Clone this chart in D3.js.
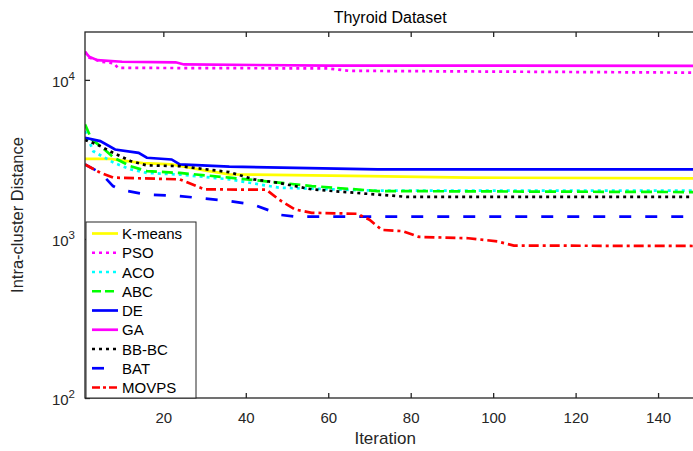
<!DOCTYPE html>
<html><head><meta charset="utf-8">
<script src="https://cdn.jsdelivr.net/npm/d3@7"></script>
<style>body{margin:0;background:#fff}svg{display:block;font-family:"Liberation Sans",Arial,sans-serif}</style>
</head><body><svg id="c" width="693" height="451"></svg>
<script>
const seriesNames = ["K-means","PSO","ACO","ABC","DE","GA","BB-BC","BAT","MOVPS"];
const xTicks = [20,40,60,80,100,120,140];
const yTicks = [100,1000,10000];

const kmeansIter = [1,7,15,22,30,36,70,94,150];
const kmeansVal  = [3190,3190,3000,2940,2700,2550,2480,2430,2400];
const psoIter = [1,2,5,8,9,60,65,150];
const psoVal  = [15000,13800,13000,12700,11900,11800,11400,11100];
const acoIter = [1,3,8,12,16,24,36,48,72,150];
const acoVal  = [4770,3560,3010,2740,2600,2540,2370,2100,2010,2010];
const abcIter = [1,2.6,4.7,8,12,16,24,36,48,56,72,150];
const abcVal  = [5250,4230,3840,3240,2870,2670,2600,2430,2260,2150,2000,1970];
const deIter = [1,4.7,8.3,14,16,22,24,36,72,150];
const deVal  = [4330,4120,3650,3480,3240,3160,2940,2850,2740,2740];
const gaIter = [1,2,4,10,23,25,60,150];
const gaVal  = [15000,14000,13300,13000,12900,12500,12300,12250];
const bbbcIter = [1,3.8,7.8,12,16,24,36,42,48,56,72,79,150];
const bbbcVal  = [4190,3940,3480,3090,2900,2870,2630,2370,2250,2050,1900,1840,1840];
const batIter = [1,4.7,7.8,9.5,16,24,36,42,46,48,52,150];
const batVal  = [2940,2610,2150,2040,1900,1860,1730,1640,1500,1420,1380,1380];
const movpsIter = [1,4.7,7.8,24,28,30,45,48,52,56,67,70,73,78,82,94,101,105,150];
const movpsVal  = [2940,2610,2430,2370,2150,2050,2040,1770,1530,1460,1440,1320,1140,1120,1030,1010,966,908,903];

const iters = [kmeansIter,psoIter,acoIter,abcIter,deIter,gaIter,bbbcIter,batIter,movpsIter];
const vals = [kmeansVal,psoVal,acoVal,abcVal,deVal,gaVal,bbbcVal,batVal,movpsVal];
const colors = ["#ffff00","#ff00ff","#00ffff","#00ff00","#0000ff","#ff00ff","#000000","#0000ff","#ff0000"];
const dashes = [null,"3,4","3,4","11,5",null,null,"3,4","12,14","10,4,3,4"];
const legendDashes = [null,"3,4","3,4","9,4",null,null,"3,4","12,14","8,3,3,3"];

const svg = d3.select("#c");
const L=85, R=699.3, T=32, B=398;
const x = d3.scaleLinear().domain([1,150]).range([L,R]);
const y = d3.scaleLog().domain([100,20000]).range([B,T]);
const axc = "#262626";

svg.append("defs").append("clipPath").attr("id","clip").append("rect")
  .attr("x",L).attr("y",T).attr("width",R-L).attr("height",B-T);

const g = svg.append("g").attr("clip-path","url(#clip)");
const line = d3.line().x(d=>x(d[0])).y(d=>y(d[1]));
seriesNames.forEach((n,i)=>{
  const pts = iters[i].map((it,j)=>[it,vals[i][j]]);
  g.append("path").attr("d",line(pts)).attr("fill","none")
   .attr("stroke",colors[i]).attr("stroke-width",2.7)
   .attr("stroke-dasharray",dashes[i]);
});

svg.append("rect").attr("x",L).attr("y",T).attr("width",R-L).attr("height",B-T)
  .attr("fill","none").attr("stroke",axc).attr("stroke-width",1.3);

const xb = svg.append("g").attr("transform",`translate(0,${B})`)
  .call(d3.axisBottom(x).tickValues(xTicks).tickSizeInner(-5).tickSizeOuter(0).tickPadding(14));
const xt = svg.append("g").attr("transform",`translate(0,${T})`)
  .call(d3.axisTop(x).tickValues(xTicks).tickSizeInner(-5).tickSizeOuter(0).tickFormat(""));
const yl = svg.append("g").attr("transform",`translate(${L},0)`)
  .call(d3.axisLeft(y).tickValues(yTicks).tickSizeInner(-5).tickSizeOuter(0).tickFormat(""));
const yr = svg.append("g").attr("transform",`translate(${R},0)`)
  .call(d3.axisRight(y).tickValues(yTicks).tickSizeInner(-5).tickSizeOuter(0).tickFormat(""));
[xb,xt,yl,yr].forEach(a=>{a.select(".domain").remove();a.selectAll("line").attr("stroke",axc).attr("stroke-width",1.3);});
xb.selectAll("text").attr("font-size",15).attr("fill",axc).attr("font-family","Liberation Sans, Arial, sans-serif");

yTicks.forEach(v=>{
  const t = svg.append("text").attr("x",L-10).attr("y",y(v)+7).attr("text-anchor","end")
    .attr("font-size",15).attr("fill",axc);
  t.append("tspan").text("10");
  t.append("tspan").attr("dy",-7).attr("font-size",11.5).text(Math.round(Math.log10(v)));
});

svg.append("text").attr("x",(L+R)/2-2).attr("y",23).attr("text-anchor","middle")
  .attr("font-size",16).attr("fill","#000").text("Thyroid Dataset");
svg.append("text").attr("x",(L+R)/2-7).attr("y",444).attr("text-anchor","middle")
  .attr("font-size",17).attr("fill",axc).text("Iteration");
svg.append("text").attr("transform",`translate(23,${(T+B)/2}) rotate(-90)`).attr("text-anchor","middle")
  .attr("font-size",16.5).attr("fill",axc).text("Intra-cluster Distance");

const lg = svg.append("g");
lg.append("rect").attr("x",L+1).attr("y",222).attr("width",110).attr("height",B-222)
  .attr("fill","#fff").attr("stroke",axc).attr("stroke-width",1);
seriesNames.forEach((n,i)=>{
  const yy = 233.5 + i*19.25;
  lg.append("line").attr("x1",92).attr("x2",118).attr("y1",yy).attr("y2",yy)
    .attr("stroke",colors[i]).attr("stroke-width",2.7).attr("stroke-dasharray",legendDashes[i]);
  lg.append("text").attr("x",122).attr("y",yy+5.5).attr("font-size",15).attr("fill","#000").text(n);
});
</script></body></html>
